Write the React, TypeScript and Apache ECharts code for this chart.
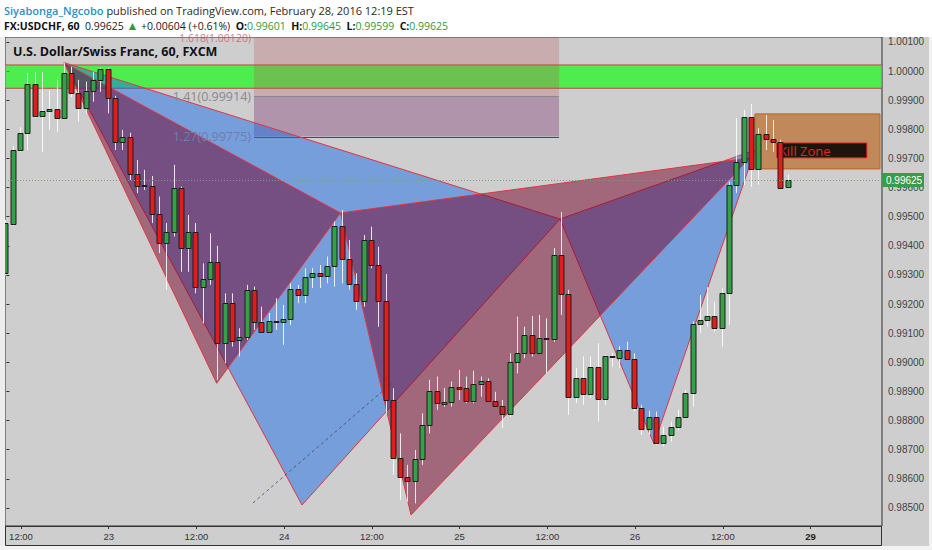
import React, { useEffect, useRef } from 'react';
import * as echarts from 'echarts';

// ---- candle data (hourly, index 0 = Feb 22 10:00) ----
const opens = [0.99307,0.99475,0.99729,0.99788,0.99956,0.99847,0.99862,0.99869,0.99840,0.99995,
 0.99924,0.99872,0.99933,0.99970,1.00006,0.99907,0.99756,0.99773,0.99646,0.99606,
 0.99606,0.99509,0.99409,0.99449,0.99598,0.99392,0.99449,0.99260,0.99285,0.99344,
 0.99068,0.99203,0.99077,0.99086,0.99249,0.99138,0.99105,0.99143,0.99138,0.99149,
 0.99252,0.99231,0.99294,0.99306,0.99298,0.99331,0.99468,0.99354,0.99269,0.99212,
 0.99420,0.99334,0.99212,0.98871,0.98671,0.98605,0.98594,0.98667,0.98785,0.98903,
 0.98857,0.98863,0.98916,0.98911,0.98868,0.98926,0.98936,0.98867,0.98851,0.98822,
 0.99002,0.99033,0.99094,0.99033,0.99083,0.99079,0.99369,0.99235,0.98880,0.98945,
 0.98891,0.98985,0.98873,0.99020,0.99016,0.99042,0.99011,0.98842,0.98770,0.98813,
 0.98722,0.98751,0.98779,0.98811,0.98894,0.99132,0.99146,0.99159,0.99117,0.99237,
 0.99609,0.99689,0.99844,0.99663,0.99784,0.99766,0.99756,0.99601];
const closes = [0.99479,0.99729,0.99788,0.99956,0.99847,0.99863,0.99869,0.99840,0.99995,0.99924,
 0.99872,0.99933,0.99970,1.00006,0.99907,0.99756,0.99773,0.99646,0.99606,0.99609,
 0.99509,0.99409,0.99449,0.99598,0.99392,0.99449,0.99260,0.99285,0.99344,0.99068,
 0.99203,0.99074,0.99086,0.99249,0.99138,0.99105,0.99143,0.99138,0.99149,0.99252,
 0.99231,0.99294,0.99306,0.99298,0.99331,0.99468,0.99354,0.99269,0.99212,0.99420,
 0.99334,0.99212,0.98871,0.98671,0.98605,0.98594,0.98667,0.98785,0.98903,0.98860,
 0.98865,0.98914,0.98908,0.98868,0.98926,0.98936,0.98867,0.98851,0.98822,0.99002,
 0.99033,0.99094,0.99033,0.99083,0.99079,0.99369,0.99235,0.98880,0.98945,0.98891,
 0.98985,0.98873,0.99020,0.99020,0.99042,0.99011,0.98842,0.98770,0.98813,0.98722,
 0.98751,0.98779,0.98811,0.98894,0.99132,0.99146,0.99159,0.99117,0.99237,0.99609,
 0.99689,0.99844,0.99663,0.99784,0.99766,0.99756,0.99600,0.99625];
const highs = [0.99489,0.99743,0.99808,0.99994,0.99997,0.99997,0.99935,0.99970,1.00029,1.00015,
 0.99970,0.99964,0.99998,1.00011,1.00011,0.99915,0.99798,0.99788,0.99695,0.99661,
 0.99640,0.99569,0.99478,0.99678,0.99603,0.99506,0.99478,0.99340,0.99443,0.99400,
 0.99237,0.99237,0.99117,0.99266,0.99260,0.99191,0.99169,0.99220,0.99197,0.99271,
 0.99266,0.99323,0.99324,0.99334,0.99363,0.99483,0.99523,0.99420,0.99306,0.99437,
 0.99466,0.99397,0.99303,0.98911,0.98756,0.98648,0.98699,0.98825,0.98940,0.98951,
 0.98912,0.98934,0.98974,0.98951,0.98971,0.98951,0.98945,0.98899,0.98871,0.99031,
 0.99157,0.99122,0.99159,0.99163,0.99151,0.99392,0.99516,0.99249,0.98981,0.99020,
 0.99020,0.99066,0.99025,0.99032,0.99056,0.99071,0.99031,0.98854,0.98834,0.98831,
 0.98779,0.98796,0.98837,0.98905,0.99140,0.99231,0.99258,0.99208,0.99254,0.99620,
 0.99839,0.99867,0.99887,0.99804,0.99849,0.99832,0.99764,0.99645];
const lows = [0.99300,0.99468,0.99722,0.99729,0.99839,0.99722,0.99798,0.99792,0.99839,0.99911,
 0.99826,0.99855,0.99895,0.99929,0.99855,0.99729,0.99729,0.99626,0.99581,0.99592,
 0.99478,0.99375,0.99249,0.99432,0.99311,0.99311,0.99237,0.99134,0.99266,0.98940,
 0.98997,0.99054,0.99020,0.99077,0.99111,0.99100,0.99100,0.99111,0.99060,0.99128,
 0.99203,0.99203,0.99255,0.99255,0.99271,0.99260,0.99271,0.99249,0.99180,0.99191,
 0.99323,0.99122,0.98825,0.98613,0.98527,0.98522,0.98516,0.98648,0.98756,0.98837,
 0.98848,0.98848,0.98871,0.98860,0.98860,0.98882,0.98865,0.98848,0.98774,0.98813,
 0.98962,0.99014,0.99020,0.99031,0.98962,0.99071,0.99163,0.98819,0.98861,0.98854,
 0.98878,0.98796,0.98854,0.98985,0.98980,0.99011,0.98831,0.98751,0.98751,0.98716,
 0.98711,0.98728,0.98768,0.98808,0.98848,0.99100,0.99122,0.99105,0.99054,0.99128,
 0.99582,0.99609,0.99603,0.99609,0.99729,0.99723,0.99599,0.99599];

// ---- axes ----
const timeTickIndex = [2, 14, 26, 38, 50, 62, 74, 86, 98, 110];
const timeTickLabels = ['12:00', '23', '12:00', '24', '12:00', '25', '12:00', '26', '12:00', '29'];
const priceTicks = [0.985, 0.986, 0.987, 0.988, 0.989, 0.990, 0.991, 0.992, 0.993, 0.994, 0.995, 0.996, 0.997, 0.998, 0.999, 1.000, 1.001];
const xRange = [-0.19, 119.78];
const yRange = [0.98438, 1.00117];

// ---- harmonic patterns: X, A, B, C, D ----
const patternAIdx = [7.88, 28.77, 45.7, 55.35, 101.7];
const patternAVal = [1.00029, 0.98928, 0.99513, 0.98476, 0.99702];
const patternBIdx = [7.88, 40.44, 75.73, 88.59, 102.41];
const patternBVal = [1.00029, 0.98510, 0.99492, 0.98720, 0.99729];

// ---- drawings ----
const fibIdx = [33.87, 75.6];
const fibLevels = [1.0012, 0.99914, 0.99775];
const fibRatios = ['1.618', '1.41', '1.27'];
const bandVal = [1.00021, 0.99941];
const killIdx = [102.4, 119.5];
const killVal = [0.99853, 0.99664];
const killLabelIdx = [105.4, 117.7];
const killLabelVal = [0.99753, 0.99702];
const trendIdx = [33.73, 52.75];
const trendVal = [0.98517, 0.98929];
const lastPrice = 0.99625;

const FONT = '"Open Sans", "Liberation Sans", Arial, sans-serif';
const AX_FONT = '"Liberation Sans", Arial, sans-serif';

export default function App() {
  const ref = useRef<HTMLDivElement>(null);
  useEffect(() => {
    if (!ref.current) return;
    const chart = echarts.init(ref.current, null, { renderer: 'svg' });

    const candleData = opens.map((o, i) => [i, o, closes[i], lows[i], highs[i]]);
    const tri = (ix: number[], iv: number[], a: number, b: number, c: number) => [
      [ix[a], iv[a]], [ix[b], iv[b]], [ix[c], iv[c]],
    ];
    const triangles = [
      { pts: tri(patternBIdx, patternBVal, 0, 1, 2), fill: 'rgba(30,110,230,0.5)' },
      { pts: tri(patternBIdx, patternBVal, 2, 3, 4), fill: 'rgba(30,110,230,0.5)' },
      { pts: tri(patternAIdx, patternAVal, 0, 1, 2), fill: 'rgba(115,0,40,0.5)' },
      { pts: tri(patternAIdx, patternAVal, 2, 3, 4), fill: 'rgba(115,0,40,0.5)' },
    ];

    const option: any = {
      animation: false,
      backgroundColor: '#cecece',
      grid: { left: 5, right: 50, top: 37, bottom: 24, show: true, borderColor: '#2e2e2e', borderWidth: 1, backgroundColor: 'transparent' },
      xAxis: {
        type: 'value', min: xRange[0], max: xRange[1], position: 'bottom',
        axisLine: { show: false },
        splitLine: { show: false },
        axisTick: { show: true, customValues: timeTickIndex, length: 3, lineStyle: { color: '#333' } },
        axisLabel: {
          customValues: timeTickIndex, margin: 5, color: '#333', fontSize: 9.5, fontFamily: AX_FONT,
          formatter: (v: number) => {
            const i = timeTickIndex.indexOf(Math.round(v));
            if (i < 0) return '';
            return timeTickLabels[i] === '29' ? '{b|29}' : timeTickLabels[i];
          },
          rich: { b: { fontWeight: 'bold', fontSize: 9.5, color: '#222', fontFamily: AX_FONT } },
        },
      },
      yAxis: {
        type: 'value', min: yRange[0], max: yRange[1], position: 'right',
        axisLine: { show: false },
        splitLine: { show: false },
        axisTick: { show: true, customValues: priceTicks, length: 3, lineStyle: { color: '#333' } },
        axisLabel: {
          customValues: priceTicks, margin: 6, color: '#444', fontSize: 10, fontFamily: AX_FONT,
          formatter: (v: number) => v.toFixed(5),
        },
      },
      graphic: [
        { type: 'rect', z: 0, shape: { x: 0, y: 0, width: 932, height: 37 }, style: { fill: '#ffffff' } },
        { type: 'rect', z: 0, shape: { x: 0, y: 37, width: 5, height: 513 }, style: { fill: '#ededed' } },
        { type: 'rect', z: 0, shape: { x: 0, y: 546, width: 932, height: 4 }, style: { fill: '#f2f2f2' } },
        { type: 'rect', z: 0, shape: { x: 929, y: 37, width: 3, height: 513 }, style: { fill: '#f2f2f2' } },
        { type: 'rect', z: 0, shape: { x: 5.5, y: 526.5, width: 876, height: 19 }, style: { fill: 'none', stroke: '#333', lineWidth: 1 } },
        {
          type: 'text', z: 20, x: 4, y: 10,
          style: {
            text: '{a|Siyabonga_Ngcobo}{b| published on TradingView.com, February 28, 2016 12:19 EST}',
            verticalAlign: 'middle', font: '11px ' + FONT,
            rich: {
              a: { fill: '#2b8fc9', fontSize: 11, fontWeight: 600, fontFamily: FONT },
              b: { fill: '#2a2a2a', fontSize: 11, fontFamily: FONT },
            },
          },
        },
        {
          type: 'text', z: 20, x: 4, y: 25.5,
          style: {
            text: '{k|FX:USDCHF, 60}{n|  0.99625 }{t|▲}{n| +0.00604 (+0.61%)  }{k|O:}{g|0.99601}{k|  H:}{g|0.99645}{k|  L:}{g|0.99599}{k|  C:}{g|0.99625}',
            verticalAlign: 'middle', font: '10.5px ' + FONT,
            rich: {
              k: { fill: '#111', fontSize: 10.5, fontWeight: 'bold', fontFamily: FONT },
              n: { fill: '#222', fontSize: 10.5, fontFamily: FONT },
              g: { fill: '#2f9a3e', fontSize: 10.5, fontFamily: FONT },
              t: { fill: '#2f9a3e', fontSize: 12, fontFamily: FONT },
            },
          },
        },
        {
          type: 'text', z: 20, x: 13, y: 51,
          style: { text: 'U.S. Dollar/Swiss Franc, 60, FXCM', verticalAlign: 'middle', fill: '#111', font: 'bold 12.5px ' + FONT },
        },
      ],
      series: [
        // support band
        {
          type: 'custom', z: 1, clip: true, silent: true,
          data: [[xRange[0], bandVal[0]]],
          renderItem: (params: any, api: any) => {
            const p1 = api.coord([xRange[0], bandVal[0]]);
            const p2 = api.coord([xRange[1], bandVal[1]]);
            return {
              type: 'group', children: [
                { type: 'rect', shape: { x: p1[0], y: p1[1], width: p2[0] - p1[0], height: p2[1] - p1[1] }, style: { fill: 'rgba(0,255,0,0.62)' } },
                { type: 'line', shape: { x1: p1[0], y1: p1[1], x2: p2[0], y2: p1[1] }, style: { stroke: '#b84a3a', lineWidth: 1 } },
                { type: 'line', shape: { x1: p1[0], y1: p2[1], x2: p2[0], y2: p2[1] }, style: { stroke: '#b84a3a', lineWidth: 1 } },
              ],
            };
          },
        },
        // fib box
        {
          type: 'custom', z: 2, clip: true, silent: true,
          data: [[fibIdx[0], fibLevels[0]]],
          renderItem: (params: any, api: any) => {
            const a = api.coord([fibIdx[0], fibLevels[0]]);
            const m = api.coord([fibIdx[1], fibLevels[1]]);
            const b = api.coord([fibIdx[1], fibLevels[2]]);
            return {
              type: 'group', children: [
                { type: 'rect', shape: { x: a[0], y: a[1], width: m[0] - a[0], height: m[1] - a[1] }, style: { fill: 'rgba(190,80,90,0.27)' } },
                { type: 'rect', shape: { x: a[0], y: m[1], width: b[0] - a[0], height: b[1] - m[1] }, style: { fill: 'rgba(120,40,110,0.35)' } },
                { type: 'line', shape: { x1: a[0], y1: Math.round(m[1]) + 0.5, x2: b[0], y2: Math.round(m[1]) + 0.5 }, style: { stroke: '#8a8a8a', lineWidth: 1 } },
                { type: 'line', shape: { x1: a[0], y1: Math.round(b[1]) + 0.5, x2: b[0], y2: Math.round(b[1]) + 0.5 }, style: { stroke: '#3a3ad0', lineWidth: 1 } },
              ],
            };
          },
        },
        // fib labels (not clipped)
        {
          type: 'custom', z: 9, clip: false, silent: true,
          data: fibLevels.map((lv, i) => [fibIdx[0], lv, i]),
          renderItem: (params: any, api: any) => {
            const i = api.value(2);
            const p = api.coord([api.value(0), api.value(1)]);
            const colors = ['#c8505a', '#8a8a8a', '#6f7db0'];
            const first = i === 0;
            return {
              type: 'text', x: p[0] - 3, y: p[1] + (first ? 1.8 : 0),
              style: { text: fibRatios[i] + '(' + fibLevels[i].toFixed(5) + ')', align: 'right', verticalAlign: 'middle', fill: colors[i], opacity: first ? 0.75 : 1, font: (first ? '10.5px ' : '12.5px ') + FONT },
            };
          },
        },
        // harmonic patterns
        {
          type: 'custom', z: 3, clip: true, silent: true,
          data: triangles.map((t, i) => [t.pts[0][0], t.pts[0][1], i]),
          renderItem: (params: any, api: any) => {
            const t = triangles[api.value(2)];
            const pts = t.pts.map((p) => api.coord(p));
            return { type: 'polygon', shape: { points: pts }, style: { fill: t.fill, stroke: '#e5333f', lineWidth: 1 } };
          },
        },
        // trend line
        {
          type: 'line', z: 4, silent: true, symbol: 'none',
          data: [[trendIdx[0], trendVal[0]], [trendIdx[1], trendVal[1]]],
          lineStyle: { color: '#3d4666', width: 1, type: [3, 3], opacity: 0.8 },
        },
        // kill zone
        {
          type: 'custom', z: 5, clip: true, silent: true,
          data: [[killIdx[0], killVal[0]]],
          renderItem: (params: any, api: any) => {
            const a = api.coord([killIdx[0], killVal[0]]);
            const b = api.coord([killIdx[1], killVal[1]]);
            const c = api.coord([killLabelIdx[0], killLabelVal[0]]);
            const d = api.coord([killLabelIdx[1], killLabelVal[1]]);
            return {
              type: 'group', children: [
                { type: 'rect', shape: { x: a[0], y: a[1], width: b[0] - a[0], height: b[1] - a[1] }, style: { fill: 'rgba(185,95,20,0.62)', stroke: '#c0601c', lineWidth: 1 } },
                { type: 'rect', shape: { x: c[0], y: c[1], width: d[0] - c[0], height: d[1] - c[1] }, style: { fill: '#1d140c', stroke: '#e01c1c', lineWidth: 1 } },
                { type: 'text', x: c[0] + 2, y: (c[1] + d[1]) / 2 + 0.5, style: { text: 'Kill Zone', verticalAlign: 'middle', fill: '#e0262a', font: '13px ' + FONT } },
              ],
            };
          },
        },
        // candles
        {
          type: 'custom', z: 6, clip: true, silent: true,
          data: candleData,
          renderItem: (params: any, api: any) => {
            const k = api.value(0), o = api.value(1), c = api.value(2), l = api.value(3), h = api.value(4);
            const pO = api.coord([k, o]);
            const pC = api.coord([k, c]);
            const pH = api.coord([k, h]);
            const pL = api.coord([k, l]);
            const x0 = Math.round(pO[0]);
            const top = Math.round(Math.min(pO[1], pC[1]));
            const bot = Math.round(Math.max(pO[1], pC[1]));
            const flat = Math.abs(c - o) < 0.000015;
            const fill = flat ? '#1a1a1a' : c > o ? '#35a047' : '#e01c1c';
            return {
              type: 'group', children: [
                { type: 'line', shape: { x1: x0 - 0.5, y1: pH[1], x2: x0 - 0.5, y2: pL[1] }, style: { stroke: 'rgba(255,255,255,0.85)', lineWidth: 1 } },
                { type: 'rect', shape: { x: x0 - 3, y: top + 0.5, width: 5, height: Math.max(bot - top, 1) }, style: { fill, stroke: '#1c1c1c', lineWidth: 1 } },
              ],
            };
          },
        },
        // last price line + axis tag
        {
          type: 'custom', z: 8, clip: false, silent: true,
          data: [[xRange[0], lastPrice]],
          renderItem: (params: any, api: any) => {
            const a = api.coord([xRange[0], lastPrice]);
            const b = api.coord([xRange[1], lastPrice]);
            const y = Math.round(a[1]) + 0.5;
            return {
              type: 'group', children: [
                { type: 'line', shape: { x1: a[0], y1: y, x2: b[0], y2: y }, style: { stroke: '#7c9c7c', lineWidth: 1, lineDash: [1, 2] } },
                { type: 'rect', shape: { x: b[0], y: y - 7.5, width: 42, height: 14 }, style: { fill: '#3a9b4a' } },
                { type: 'text', x: b[0] + 4, y: y, style: { text: lastPrice.toFixed(5), verticalAlign: 'middle', fill: '#ffffff', font: '10px ' + AX_FONT } },
              ],
            };
          },
        },
      ],
    };
    chart.setOption(option);
    return () => chart.dispose();
  }, []);
  return (
    <div style={{ position: 'fixed', left: 0, top: 0, width: 932, height: 550, background: '#fff' }}>
      <div ref={ref} style={{ width: 932, height: 550 }} />
    </div>
  );
}
